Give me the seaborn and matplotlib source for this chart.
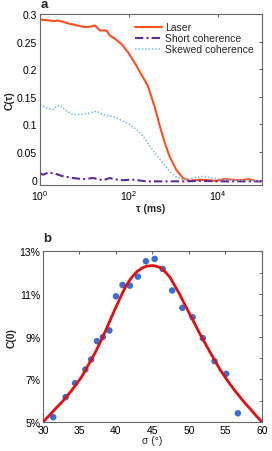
import numpy as np
import pandas as pd
import matplotlib
matplotlib.use('Agg')
import matplotlib.pyplot as plt
import matplotlib.ticker as mticker
import seaborn as sns

sns.set_style('white')
plt.rcParams.update({
    'font.family': ['Liberation Sans', 'DejaVu Sans'],
    'font.size': 7.5,
    'axes.edgecolor': '#666666',
    'axes.linewidth': 0.8,
    'xtick.direction': 'in',
    'ytick.direction': 'in',
    'xtick.major.size': 2,
    'ytick.major.size': 2,
    'xtick.minor.size': 2,
    'ytick.minor.size': 2,
    'xtick.color': '#666666',
    'ytick.color': '#666666',
    'xtick.labelcolor': 'black',
    'ytick.labelcolor': 'black',
})

# panel a: correlation curves (log10 of tau in ms, C(tau))
laser_logt = [0.0, 0.1, 0.225, 0.32, 0.41, 0.55, 0.67, 0.85, 1.01, 1.13, 1.24, 1.35, 1.5,
              1.57, 1.69, 1.84, 1.99, 2.13, 2.28, 2.43, 2.58, 2.70, 2.81, 2.92, 3.07,
              3.22, 3.37, 3.6, 3.8, 3.97, 4.15, 4.34, 4.5, 4.7, 4.85, 4.98]
laser_c = [0.290, 0.289, 0.288, 0.287, 0.288, 0.285, 0.282, 0.279, 0.276, 0.277, 0.279,
           0.270, 0.270, 0.261, 0.255, 0.245, 0.230, 0.212, 0.191, 0.170, 0.133, 0.097,
           0.067, 0.042, 0.018, 0.003, -0.002, 0.0, -0.001, -0.002, 0.001, 0.0, -0.001,
           0.001, -0.002, -0.003]

skew_logt = [0.0, 0.15, 0.3, 0.37, 0.45, 0.6, 0.75, 0.97, 1.12, 1.27, 1.42, 1.57, 1.72,
             1.87, 2.02, 2.17, 2.32, 2.47, 2.62, 2.77, 2.92, 3.07, 3.22, 3.45, 3.67,
             3.9, 4.2, 4.5, 4.98]
skew_c = [0.136, 0.130, 0.127, 0.133, 0.135, 0.124, 0.118, 0.118, 0.121, 0.124, 0.118,
          0.115, 0.112, 0.106, 0.100, 0.091, 0.079, 0.061, 0.045, 0.030, 0.015, 0.005,
          0.0, 0.003, 0.006, 0.003, 0.0, -0.001, -0.002]

short_logt = [0.0, 0.07, 0.19, 0.34, 0.52, 0.75, 0.97, 1.2, 1.42, 1.57, 1.8, 2.1, 2.4,
              2.7, 3.0, 3.3, 3.6, 4.0, 4.35, 4.98]
short_c = [0.012, 0.009, 0.013, 0.011, 0.006, 0.003, 0.001, 0.003, -0.001, 0.003, -0.001,
           0.0, -0.003, -0.003, -0.003, -0.003, -0.002, -0.003, -0.003, -0.003]

# panel b: C(0) vs sigma
sigma_pts = [31.4, 33.1, 34.4, 35.8, 36.6, 37.4, 38.2, 39.1, 40.0, 40.9, 41.9, 43.0,
             44.1, 45.3, 46.4, 47.7, 49.1, 50.5, 51.9, 53.5, 55.1, 56.7]
c0_pts = [5.23, 6.17, 6.82, 7.46, 7.93, 8.79, 8.98, 9.29, 10.89, 11.42, 11.39, 11.81,
          12.53, 12.64, 12.17, 11.16, 10.35, 9.91, 8.93, 7.85, 7.26, 5.41]

sigma_fit = [30.0, 31.0, 31.8, 32.5, 33.2, 33.9, 34.6, 35.3, 35.9, 36.6, 37.3, 38.0, 38.7,
             39.4, 40.1, 40.8, 41.4, 42.1, 42.8, 43.5, 44.2, 45.1, 46.0, 46.7, 47.4,
             48.0, 48.7, 49.4, 50.1, 50.8, 51.5, 52.2, 52.9, 53.6, 54.2, 54.9, 55.6,
             56.3, 57.0, 57.7, 58.4, 59.2, 60.0]
c0_fit = [5.0, 5.36, 5.66, 5.9, 6.17, 6.47, 6.79, 7.12, 7.49, 7.9, 8.35, 8.85, 9.37,
          9.92, 10.46, 10.98, 11.39, 11.75, 12.02, 12.2, 12.30, 12.33, 12.25, 12.05,
          11.78, 11.42, 11.0, 10.53, 10.06, 9.6, 9.13, 8.7, 8.27, 7.86, 7.49, 7.13,
          6.79, 6.47, 6.17, 5.88, 5.62, 5.3, 5.0]

fig = plt.figure(figsize=(2.72, 4.52), dpi=100)
ax1 = fig.add_axes([0.147, 0.588, 0.816, 0.379])
ax2 = fig.add_axes([0.158, 0.064, 0.805, 0.378])

df_a = pd.concat([
    pd.DataFrame({'tau': 10 ** np.array(laser_logt), 'C': laser_c, 'series': 'Laser'}),
    pd.DataFrame({'tau': 10 ** np.array(short_logt), 'C': short_c, 'series': 'Short coherence'}),
    pd.DataFrame({'tau': 10 ** np.array(skew_logt), 'C': skew_c, 'series': 'Skewed coherence'}),
])

colors = {'Laser': '#ff4f1f', 'Short coherence': '#5b2d96', 'Skewed coherence': '#7cbcf5'}
styles = {'Laser': '-', 'Short coherence': (0, (4, 1.5, 1, 1.5)), 'Skewed coherence': (0, (1, 1.2))}
widths = {'Laser': 1.5, 'Short coherence': 1.5, 'Skewed coherence': 1.1}
for name in ['Laser', 'Short coherence', 'Skewed coherence']:
    sub = df_a[df_a['series'] == name]
    sns.lineplot(data=sub, x='tau', y='C', ax=ax1, color=colors[name], linestyle=styles[name],
                 linewidth=widths[name], label=name, estimator=None, sort=False)

ax1.set_xscale('log')
ax1.set_xlim(1, 1e5)
ax1.set_ylim(-0.01, 0.3)
ax1.set_yticks([0, 0.05, 0.1, 0.15, 0.2, 0.25, 0.3])
ax1.set_yticklabels(['0', '0.05', '0.1', '0.15', '0.2', '0.25', '0.3'])
ax1.set_xticks([1, 1e2, 1e4])
ax1.xaxis.set_minor_locator(mticker.NullLocator())
ax1.set_xlabel('τ (ms)', fontweight='bold', labelpad=1)
ax1.set_ylabel('C(τ)', fontweight='bold', labelpad=2)
ax1.tick_params(top=True, right=True, pad=2)
ax1.legend(loc='upper right', frameon=False, fontsize=7.5, handlelength=2.6,
           handletextpad=0.3, labelspacing=0.1, borderaxespad=0.4)
ax1.text(0.005, 1.025, 'a', transform=ax1.transAxes, fontsize=9.5, fontweight='bold',
         ha='left', va='bottom')

sns.scatterplot(x=sigma_pts, y=c0_pts, ax=ax2, color='#3b6fd4', s=22, edgecolor='none', zorder=3)
sns.lineplot(x=sigma_fit, y=c0_fit, ax=ax2, color='#e01010', linewidth=2.0, sort=False,
             estimator=None, zorder=4)
ax2.set_xlim(30, 60)
ax2.set_ylim(5, 13)
ax2.set_xticks([30, 35, 40, 45, 50, 55, 60])
ax2.set_yticks([5, 7, 9, 11, 13])
ax2.set_yticklabels(['5%', '7%', '9%', '11%', '13%'])
ax2.yaxis.set_minor_locator(mticker.MultipleLocator(1))
ax2.set_xlabel('σ (°)', labelpad=0)
ax2.set_ylabel('C(0)', fontweight='bold', labelpad=2)
ax2.tick_params(which='both', top=True, right=True, pad=2)
ax2.text(0.0, 1.04, 'b', transform=ax2.transAxes, fontsize=9.5, fontweight='bold',
         ha='left', va='bottom')

fig.savefig('out.png', dpi=100)
